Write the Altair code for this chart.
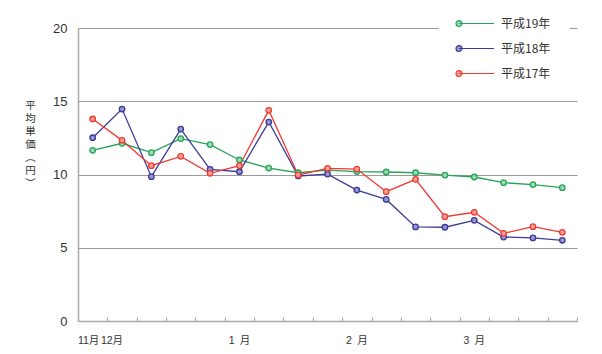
import altair as alt
import pandas as pd

# ---- data ----
weeks = list(range(17))
tick_labels = ["11月", "12月", "", "", "", "1\u2002月", "", "", "", "2\u2002月", "", "", "", "3\u2002月", "", "", ""]
series_names = ["平成19年", "平成18年", "平成17年"]
h19 = [11.65, 12.13, 11.49, 12.45, 12.04, 10.99, 10.44, 10.12, 10.30, 10.20, 10.17, 10.12, 9.96, 9.83, 9.44, 9.31, 9.10]
h18 = [12.51, 14.47, 9.85, 13.10, 10.35, 10.19, 13.58, 9.90, 10.03, 8.94, 8.30, 6.42, 6.40, 6.87, 5.73, 5.67, 5.51]
h17 = [13.79, 12.33, 10.60, 11.24, 10.08, 10.60, 14.38, 9.97, 10.42, 10.37, 8.83, 9.67, 7.12, 7.42, 5.98, 6.44, 6.05]
y_title = ["平", "均", "単", "価", "\u3000", "︵", "円", "︶"]
line_colors = ["#27a35a", "#3b3b96", "#ef3a34"]
fill_colors = ["#9bdcb2", "#9797cf", "#fb9f95"]

rows = []
for name, vals in zip(series_names, [h19, h18, h17]):
    for w, v in zip(weeks, vals):
        rows.append({"week": w, "value": v, "series": name})
df = pd.DataFrame(rows)

JP = "Noto Sans CJK JP"
NUM = "Liberation Sans, Noto Sans CJK JP"

label_expr = "[" + ",".join("'" + t + "'" for t in tick_labels) + "][datum.value]"

xscale = alt.Scale(type="band", paddingInner=0, paddingOuter=0)
yscale = alt.Scale(domain=[0, 20], nice=False, zero=True)

y_axis = alt.Axis(
    values=[0, 5, 10, 15, 20], grid=True, gridColor="#9a9a9a", gridWidth=1.2,
    domain=True, domainColor="#aaaaaa", domainWidth=1.5, ticks=False,
    labelFont=NUM, labelFontSize=13, labelColor="#333333", labelPadding=11,
    title=y_title, titleAngle=0,
    titleX=-48, titleY=72, titleAlign="center", titleBaseline="top",
    titleFont=JP, titleFontSize=10.5, titleFontWeight="normal",
    titleLineHeight=13, titleColor="#333333",
)

symbol_path = ("M-1,0L1,0M-0.83,0A0.17,0.17 0 1,1 -1.17,0"
               "A0.17,0.17 0 1,1 -0.83,0Z")
legend = alt.Legend(
    title=None, orient="none", legendX=361, legendY=-42,
    symbolType=symbol_path, symbolSize=1225, symbolStrokeWidth=1.2,
    labelFont=JP, labelFontSize=12, labelColor="#333333", labelOffset=6,
    labelExpr="datum.label + '\u00a0\u00a0\u00a0'",
    padding=19, fillColor="white", rowPadding=-1,
)

stroke_enc = alt.Stroke("series:N", sort=series_names,
                        scale=alt.Scale(domain=series_names, range=line_colors),
                        legend=legend)
fill_enc = alt.Fill("series:N", sort=series_names,
                    scale=alt.Scale(domain=series_names, range=fill_colors),
                    legend=legend)
y_enc = alt.Y("value:Q", scale=yscale, axis=y_axis)

lines = alt.Chart(df).mark_line(strokeWidth=1.3).encode(
    x=alt.X("week:O", scale=xscale, axis=alt.Axis(
        orient="bottom", title=None, labelExpr=label_expr, labelAngle=0,
        labelFont=NUM, labelFontSize=10.5, labelColor="#333333", labelPadding=14,
        ticks=False, domain=True, domainColor="#aaaaaa", domainWidth=1.5,
        grid=False,
        labelOffset={"condition": [{"test": "datum.value == 0", "value": -4},
                                   {"test": "datum.value == 1", "value": -10}],
                     "value": 0},
    )),
    y=y_enc,
    stroke=stroke_enc,
    detail="series:N",
)

points = alt.Chart(df).mark_point(filled=False, shape="circle", size=30,
                                  strokeWidth=1.3, opacity=1).encode(
    x=alt.X("week:O", scale=xscale, axis=alt.Axis(
        orient="top", offset=-293, title=None, labels=False, domain=False,
        ticks=True, tickSize=4, tickColor="#aaaaaa", tickWidth=1.2,
        tickBand="extent", grid=False,
    )),
    y=y_enc,
    stroke=stroke_enc,
    fill=fill_enc,
)

chart = alt.layer(lines, points).resolve_axis(x="independent").properties(
    width=499, height=293,
    autosize=alt.AutoSizeParams(type="none"),
    padding={"left": 78, "top": 28, "right": 25, "bottom": 33},
    background="white",
).configure_view(stroke=None)

chart.save("out.html", embed_options={"renderer": "svg", "actions": False})
